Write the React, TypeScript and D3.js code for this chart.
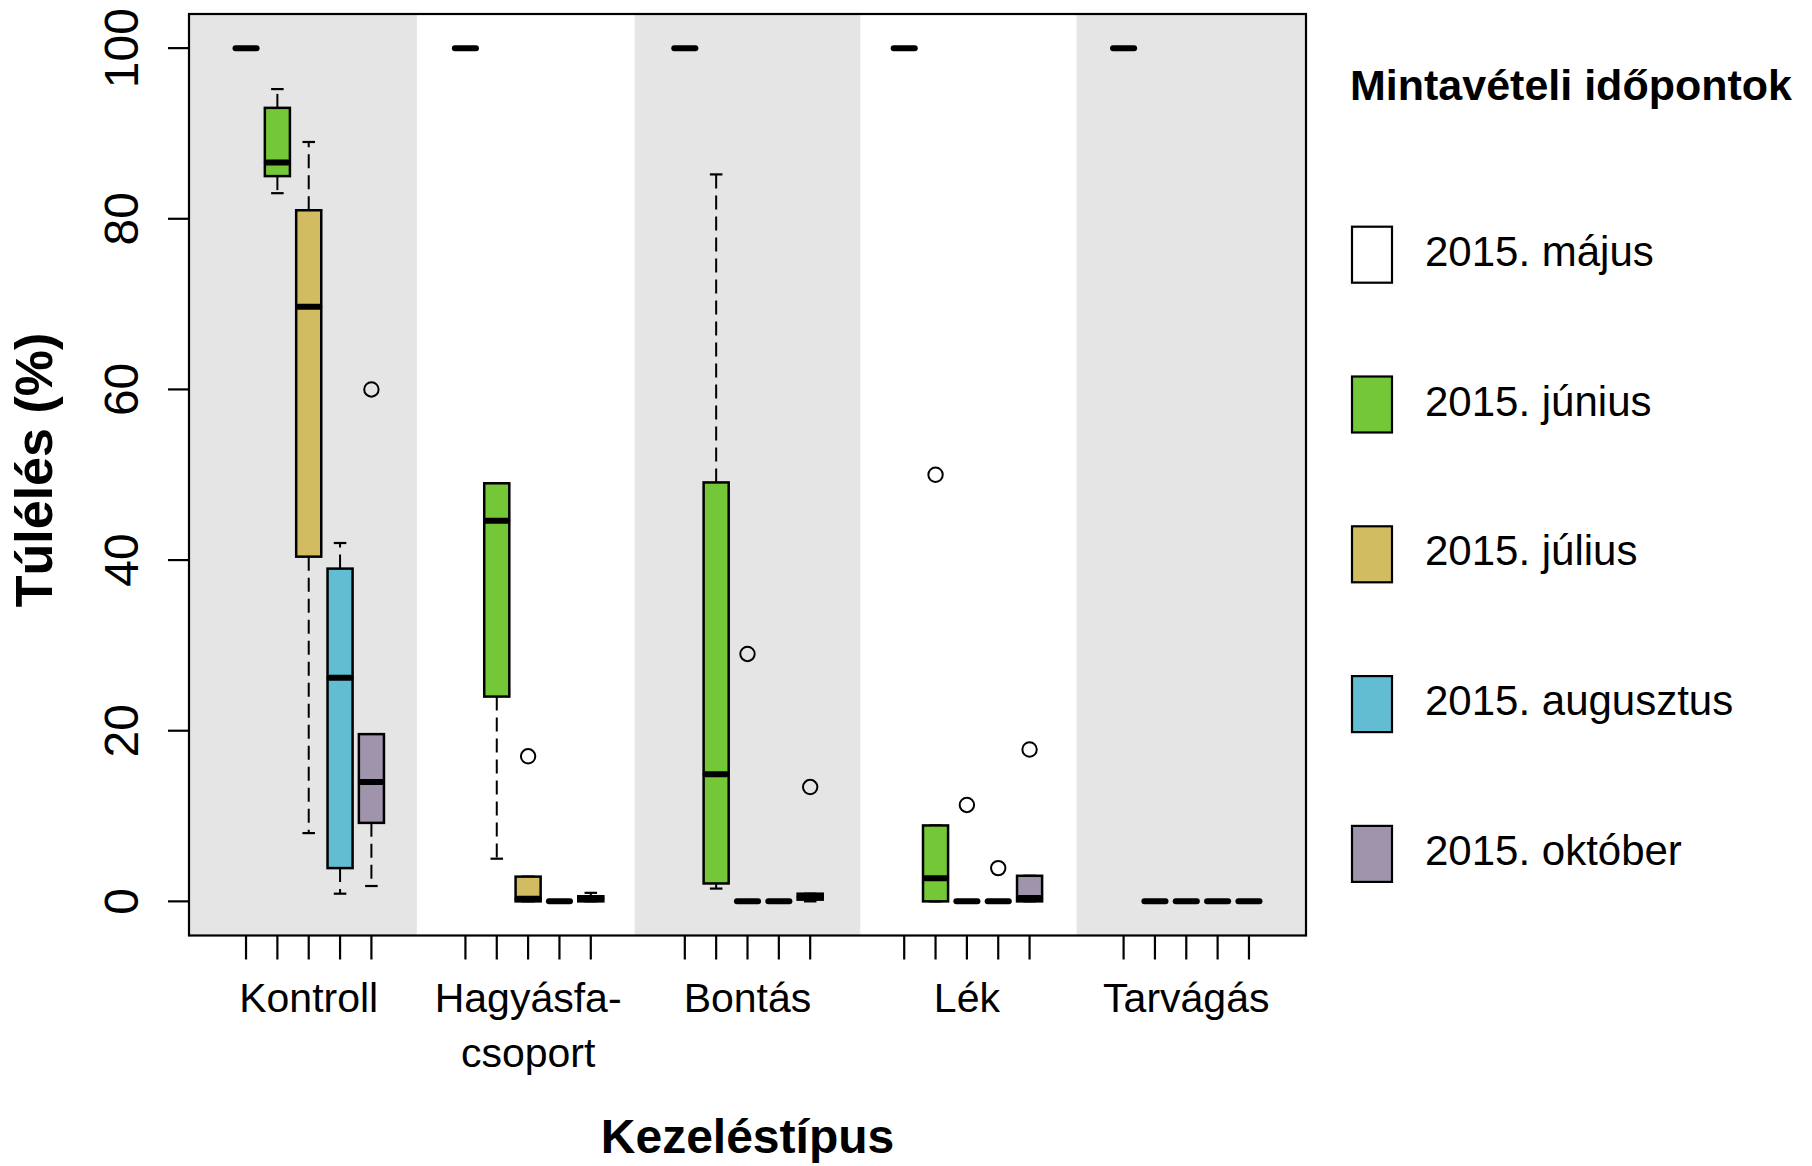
import React from "react";
import * as d3 from "d3";

// Treatment groups along the x axis (line break marks a wrapped label)
const treatments = ["Kontroll", "Hagyásfa-\ncsoport", "Bontás", "Lék", "Tarvágás"];

// Sampling dates shown within each treatment
const months = [
  "2015. május",
  "2015. június",
  "2015. július",
  "2015. augusztus",
  "2015. október",
];
const monthColors = ["#FFFFFF", "#74C736", "#D2BC62", "#62BCD2", "#9F94AC"];

// Five-number summaries per month: [lower whisker, Q1, median, Q3, upper whisker]
const kontrollStats = [
  [100, 100, 100, 100, 100],
  [83, 85, 86.6, 93, 95.2],
  [8, 40.4, 69.7, 81, 89],
  [0.9, 3.9, 26.2, 39, 42],
  [1.8, 9.2, 14, 19.6, 19.6],
];
const hagyasfaStats = [
  [100, 100, 100, 100, 100],
  [5, 24, 44.6, 49, 49],
  [0, 0, 0.3, 2.9, 2.9],
  [0, 0, 0, 0, 0],
  [0, 0, 0.35, 0.6, 1.0],
];
const bontasStats = [
  [100, 100, 100, 100, 100],
  [1.5, 2.1, 14.9, 49.1, 85.2],
  [0, 0, 0, 0, 0],
  [0, 0, 0, 0, 0],
  [0, 0.2, 0.5, 0.9, 0.9],
];
const lekStats = [
  [100, 100, 100, 100, 100],
  [0, 0, 2.7, 8.9, 8.9],
  [0, 0, 0, 0, 0],
  [0, 0, 0, 0, 0],
  [0, 0, 0.4, 3, 3],
];
const tarvagasStats = [
  [100, 100, 100, 100, 100],
  [0, 0, 0, 0, 0],
  [0, 0, 0, 0, 0],
  [0, 0, 0, 0, 0],
  [0, 0, 0, 0, 0],
];

// Outlying observations per month
const kontrollOutliers = [[], [], [], [], [60]];
const hagyasfaOutliers = [[], [], [17], [], []];
const bontasOutliers = [[], [], [29], [], [13.4]];
const lekOutliers = [[], [50], [11.3], [3.9], [17.8]];
const tarvagasOutliers = [[], [], [], [], []];

const yTicks = [0, 20, 40, 60, 80, 100];

// Shaded bands behind alternate treatment groups, in box-position units
const shadeBands = [
  [-0.82, 6.45],
  [13.4, 20.6],
  [27.5, 34.82],
];

const allStats = [kontrollStats, hagyasfaStats, bontasStats, lekStats, tarvagasStats];
const allOutliers = [
  kontrollOutliers,
  hagyasfaOutliers,
  bontasOutliers,
  lekOutliers,
  tarvagasOutliers,
];

const FONT = "'Liberation Sans', Arial, Helvetica, sans-serif";
const W = 1812;
const H = 1166;
const plot = { left: 189, right: 1306, top: 14, bottom: 935.5 };

// Box positions: five boxes per group, groups 7 units apart
const pos = (g: number, m: number) => g * 7 + m + 1;

export default function App() {
  const x = d3.scaleLinear().domain([-0.82, 34.82]).range([plot.left, plot.right]);
  const y = d3.scaleLinear().domain([-4, 104]).range([plot.bottom, plot.top]);
  const unit = x(1) - x(0);
  const boxW = unit * 0.8;
  const staple = boxW * 0.5;

  const boxes: any[] = [];
  allStats.forEach((stats, g) => {
    stats.forEach((s, m) => {
      boxes.push({ g, m, s, out: allOutliers[g][m], cx: x(pos(g, m)) });
    });
  });

  return (
    <svg
      width={W}
      height={H}
      style={{ position: "absolute", left: 0, top: 0, background: "#fff" }}
      fontFamily={FONT}
    >
      {/* alternating group shading */}
      {shadeBands.map(([a, b], i) => (
        <rect
          key={i}
          x={x(a)}
          y={plot.top}
          width={x(b) - x(a)}
          height={plot.bottom - plot.top}
          fill="#E5E5E5"
        />
      ))}

      {/* boxplots */}
      {boxes.map((b, i) => {
        const [lo, q1, med, q3, hi] = b.s;
        const cx = b.cx;
        return (
          <g key={i}>
            {/* whiskers */}
            <line
              x1={cx}
              x2={cx}
              y1={y(q3)}
              y2={y(hi)}
              stroke="#000"
              strokeWidth={2}
              strokeDasharray="14,7"
            />
            <line
              x1={cx}
              x2={cx}
              y1={y(q1)}
              y2={y(lo)}
              stroke="#000"
              strokeWidth={2}
              strokeDasharray="14,7"
            />
            <line x1={cx - staple / 2} x2={cx + staple / 2} y1={y(hi)} y2={y(hi)} stroke="#000" strokeWidth={2.2} />
            <line x1={cx - staple / 2} x2={cx + staple / 2} y1={y(lo)} y2={y(lo)} stroke="#000" strokeWidth={2.2} />
            {/* box */}
            <rect
              x={cx - boxW / 2}
              y={y(q3)}
              width={boxW}
              height={Math.max(0, y(q1) - y(q3))}
              fill={monthColors[b.m]}
              stroke="#000"
              strokeWidth={2.5}
            />
            {/* median */}
            <line
              x1={cx - boxW / 2 + 2}
              x2={cx + boxW / 2 - 2}
              y1={y(med)}
              y2={y(med)}
              stroke="#000"
              strokeWidth={6}
              strokeLinecap="round"
            />
            {/* outliers */}
            {b.out.map((v: number, k: number) => (
              <circle key={k} cx={cx} cy={y(v)} r={7.2} fill="none" stroke="#000" strokeWidth={2} />
            ))}
          </g>
        );
      })}

      {/* plot frame */}
      <rect
        x={plot.left}
        y={plot.top}
        width={plot.right - plot.left}
        height={plot.bottom - plot.top}
        fill="none"
        stroke="#000"
        strokeWidth={2.2}
      />

      {/* y axis */}
      {yTicks.map((t) => (
        <g key={t}>
          <line x1={plot.left - 21} x2={plot.left} y1={y(t)} y2={y(t)} stroke="#000" strokeWidth={2.2} />
          <text
            transform={`translate(138,${y(t)}) rotate(-90)`}
            textAnchor="middle"
            fontSize={48}
            fill="#000"
          >
            {t}
          </text>
        </g>
      ))}
      <text
        transform={`translate(52,470) rotate(-90)`}
        textAnchor="middle"
        fontSize={52}
        fontWeight="bold"
        fill="#000"
      >
        Túlélés (%)
      </text>

      {/* x axis */}
      {boxes.map((b, i) => (
        <line
          key={i}
          x1={b.cx}
          x2={b.cx}
          y1={plot.bottom}
          y2={plot.bottom + 24}
          stroke="#000"
          strokeWidth={2.2}
        />
      ))}
      {treatments.map((t, g) => (
        <text key={g} x={x(pos(g, 2))} y={1011.5} textAnchor="middle" fontSize={41} fill="#000">
          {t.split("\n").map((line, k) => (
            <tspan key={k} x={x(pos(g, 2))} dy={k === 0 ? 0 : 55}>
              {line}
            </tspan>
          ))}
        </text>
      ))}
      <text
        x={(plot.left + plot.right) / 2}
        y={1153}
        textAnchor="middle"
        fontSize={48}
        fontWeight="bold"
        fill="#000"
      >
        Kezeléstípus
      </text>

      {/* legend */}
      <text x={1350} y={100} fontSize={43} fontWeight="bold" fill="#000">
        Mintavételi időpontok
      </text>
      {months.map((m, i) => {
        const top = 226.7 + i * 149.8;
        return (
          <g key={m}>
            <rect x={1352} y={top} width={40} height={56} fill={monthColors[i]} stroke="#000" strokeWidth={2.2} />
            <text x={1425} y={top + 39} fontSize={42} fill="#000">
              {m}
            </text>
          </g>
        );
      })}
    </svg>
  );
}
